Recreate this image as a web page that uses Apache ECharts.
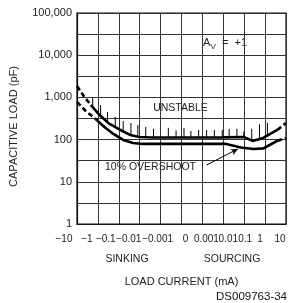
<!DOCTYPE html>
<html>
<head>
    <meta charset="UTF-8">
    <script src="https://cdn.jsdelivr.net/npm/echarts@6/dist/echarts.min.js"></script>
    <style>
        html, body { margin: 0; padding: 0; background: #fff; }
        #chart { width: 291px; height: 303px; }
    </style>
</head>
<body>
<div id="chart"></div>
<script>
    // x positions are category slots 0..10 on the load current axis
    var xLabels = ['\u221210', '\u22121', '\u22120.1', '\u22120.01', '\u22120.001', '0', '0.001', '0.01', '0.1', '1', '10'];
    var yTickLabels = ['1', '10', '100', '1,000', '10,000', '100,000'];

    // unstable boundary (upper curve)
    var upperDashL = [[0, 1860], [0.33, 1070], [0.66, 660]];
    var upperSolid = [[0.66, 660], [1.03, 405], [1.5, 247], [2.07, 169], [2.54, 129], [3.0, 115], [3.6, 112],
        [5.0, 112], [7.0, 113], [7.98, 115], [8.4, 93], [8.87, 107], [9.58, 169]];
    var upperDashR = [[9.58, 169], [10, 247]];

    // 10% overshoot (lower curve)
    var lowerDashL = [[0, 778], [0.42, 476], [0.89, 308]];
    var lowerSolid = [[0.89, 308], [1.31, 199], [1.74, 136], [2.21, 98], [2.68, 83], [3.15, 79], [5.0, 79],
        [7.14, 79], [7.84, 65], [8.45, 60], [8.92, 62], [9.39, 83], [9.58, 93]];
    var lowerDashR = [[9.58, 93], [10, 109]];

    // hatch marks above the unstable boundary: [x, bottom, top]
    var hatchX = [0.75, 1.13, 1.46, 1.83, 2.21, 2.58, 2.91, 3.29, 3.66, 4.37, 4.74, 5.12, 5.45, 5.82, 6.2, 6.57, 6.95, 7.28, 7.65, 7.98, 8.36, 8.73, 9.11];
    var hatchBottom = [590, 365, 261, 200, 160, 131, 116, 112, 112, 112, 112, 112, 112, 112, 112, 112, 113, 113, 114, 115, 98, 101, 128];
    var hatchTop = [970, 660, 451, 343, 275, 247, 222, 200, 180, 190, 165, 190, 160, 169, 169, 169, 169, 180, 180, 155, 180, 230, 250];

    var arrowFrom = [6.2, 25];
    var arrowTo = [7.7, 60];

    var hatchData = hatchX.map(function (x, i) { return [x, hatchBottom[i], hatchTop[i]]; });

    // label nudges (px) to match the crowded tick text of the original
    var labelShift = [-13, -11, -13, -11, -3, 4, 4, 5, 1, -5, -6];
    var rich = {};
    labelShift.forEach(function (d, i) {
        rich['s' + i] = {
            fontFamily: 'Liberation Sans', fontSize: 10, color: '#222',
            padding: d < 0 ? [0, -2 * d, 0, 0] : [0, 0, 0, 2 * d]
        };
    });

    var font = 'Liberation Sans';
    var chart = echarts.init(document.getElementById('chart'));

    function curve(data, dashed) {
        return {
            type: 'line', data: data, showSymbol: false, symbol: 'none', silent: true,
            lineStyle: { color: '#000', width: 2.6, type: dashed ? [5, 3] : 'solid' },
            z: 3
        };
    }

    var option = {
        animation: false,
        backgroundColor: '#fff',
        grid: {
            left: 73, top: 13, right: 5, bottom: 79,
            show: true, borderColor: '#111', borderWidth: 1.2
        },
        xAxis: {
            type: 'value', min: 0, max: 10, interval: 1,
            name: 'LOAD CURRENT (mA)', nameLocation: 'middle', nameGap: 52,
            nameTextStyle: { fontFamily: font, fontSize: 11, color: '#222' },
            axisLine: { show: true, lineStyle: { color: '#111', width: 1.2 } },
            axisTick: { show: false },
            splitLine: { show: true, lineStyle: { color: '#333', width: 1 } },
            axisLabel: {
                margin: 10,
                formatter: function (v) {
                    var i = Math.round(v);
                    return '{s' + i + '|' + xLabels[i] + '}';
                },
                rich: rich
            }
        },
        yAxis: [{
            type: 'log', logBase: 10, min: 1, max: 100000,
            name: 'CAPACITIVE LOAD (pF)', nameLocation: 'middle', nameGap: 58,
            nameTextStyle: { fontFamily: font, fontSize: 11, color: '#222', padding: [0, 16, 0, 0] },
            axisLine: { show: true, lineStyle: { color: '#111', width: 1.2 } },
            axisTick: { show: false },
            splitLine: { show: false },
            axisLabel: {
                margin: 5, fontFamily: font, fontSize: 11, color: '#222',
                formatter: function (v) {
                    return yTickLabels[Math.round(Math.log10(v))];
                }
            }
        }, {
            // half-decade grid lines (decades in log10 units)
            type: 'value', min: 0, max: 5, interval: 0.5, position: 'left',
            axisLine: { show: false }, axisTick: { show: false }, axisLabel: { show: false },
            splitLine: { show: true, lineStyle: { color: '#333', width: 1 } }
        }],
        series: [
            {
                type: 'custom', data: hatchData, silent: true, z: 2,
                encode: { x: 0, y: [1, 2] },
                renderItem: function (params, api) {
                    var p1 = api.coord([api.value(0), api.value(1)]);
                    var p2 = api.coord([api.value(0), api.value(2)]);
                    return {
                        type: 'line',
                        shape: { x1: p1[0], y1: p1[1], x2: p2[0], y2: p2[1] },
                        style: { stroke: '#000', lineWidth: 1 }
                    };
                }
            },
            curve(upperDashL, true),
            curve(upperSolid, false),
            curve(upperDashR, true),
            curve(lowerDashL, true),
            Object.assign(curve(lowerSolid, false), {
                markLine: {
                    silent: true, symbol: ['none', 'arrow'], symbolSize: [5, 7],
                    label: { show: false },
                    lineStyle: { color: '#000', width: 1, type: 'solid' },
                    data: [[{ coord: arrowFrom }, { coord: arrowTo }]]
                }
            }),
            curve(lowerDashR, true)
        ],
        graphic: [
            { type: 'text', x: 203, y: 43, style: { text: 'A', font: '11px ' + font, fill: '#222', verticalAlign: 'middle' } },
            { type: 'text', x: 210.5, y: 46.5, style: { text: 'V', font: '8px ' + font, fill: '#222', verticalAlign: 'middle' } },
            { type: 'text', x: 222, y: 43, style: { text: '=  +1', font: '11px ' + font, fill: '#222', verticalAlign: 'middle' } },
            { type: 'text', x: 180.5, y: 108, style: { text: 'UNSTABLE', font: '10.5px ' + font, fill: '#222', align: 'center', verticalAlign: 'middle' } },
            { type: 'text', x: 105, y: 167, style: { text: '10% OVERSHOOT', font: '10.5px ' + font, fill: '#222', verticalAlign: 'middle' } },
            { type: 'text', x: 127, y: 259, style: { text: 'SINKING', font: '10.5px ' + font, fill: '#222', align: 'center', verticalAlign: 'middle' } },
            { type: 'text', x: 232, y: 259, style: { text: 'SOURCING', font: '10.5px ' + font, fill: '#222', align: 'center', verticalAlign: 'middle' } },
            { type: 'text', x: 287, y: 297, style: { text: 'DS009763-34', font: '11.5px ' + font, fill: '#111', align: 'right', verticalAlign: 'middle' } }
        ]
    };
    chart.setOption(option);
</script>
</body>
</html>
